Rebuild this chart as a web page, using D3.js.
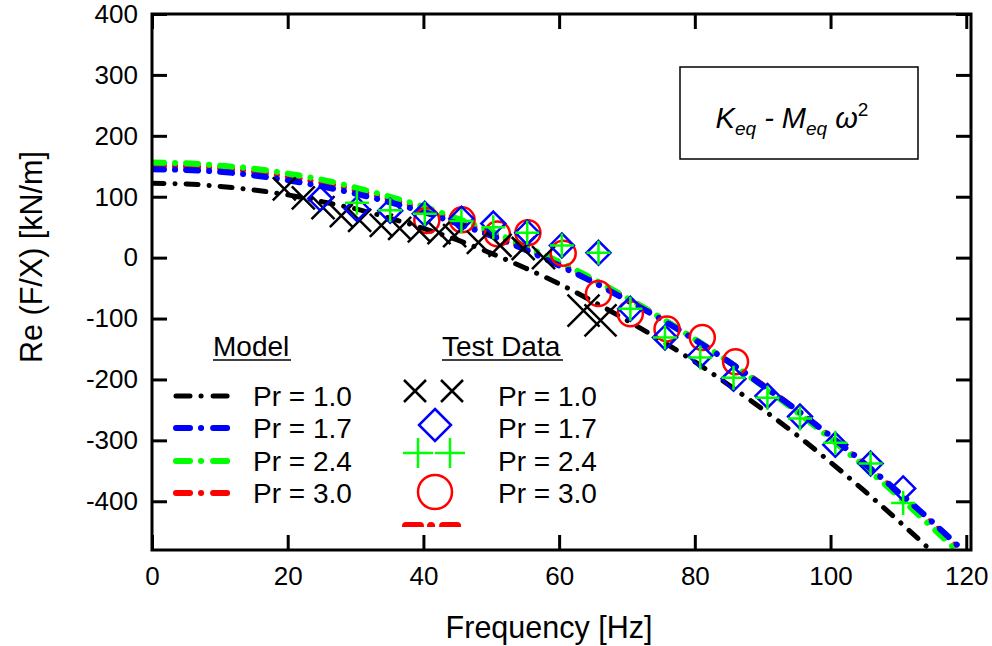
<!DOCTYPE html>
<html>
<head>
<meta charset="utf-8">
<script src="https://cdn.jsdelivr.net/npm/d3@7"></script>
<style>
body { margin: 0; background: #fff; }
text { font-family: Arial, "Liberation Sans", sans-serif; fill: #000; }
</style>
</head>
<body>
<svg></svg>
<script>
// model curves, read every 5 Hz
const modelFreq = [0, 5, 10, 15, 20, 25, 30, 35, 40, 45, 50, 55, 60, 65, 70, 75, 80, 85, 90, 95, 100, 105, 110, 115, 120];
const modelPr10 = [122, 121, 117, 111, 103, 92, 80, 65, 48, 29, 7, -17, -43, -72, -103, -136, -171, -209, -249, -291, -336, -383, -432, -483, -537];
const modelPr17 = [145, 144, 141, 135, 127, 117, 105, 91, 75, 56, 36, 13, -13, -40, -70, -101, -135, -171, -210, -250, -293, -338, -385, -434, -486];
const modelPr24 = [156, 155, 151, 146, 138, 128, 115, 100, 84, 64, 43, 19, -7, -35, -66, -99, -134, -171, -211, -253, -297, -343, -392, -443, -496];
const modelPr30 = [151, 150, 147, 141, 133, 123, 111, 96, 80, 61, 40, 16, -9, -37, -67, -99, -134, -171, -209, -251, -294, -340, -387, -437, -490];

// test data
const testFreq10 = [19.5, 22.3, 25.2, 27.9, 30.6, 33.8, 36.5, 39.4, 42.3, 44.6, 48.1, 51.3, 54.7, 57.7];
const testPr10 = [113, 98, 82, 69, 61, 53, 48, 44, 41, 36, 25, 20, 15, 0];
const testFreq10Hi = [63.6, 66.1];
const testPr10Hi = [-87, -103];
const testFreq17 = [24.8, 30.2, 35.1, 40.2, 45.6, 50.3, 55.3, 60.4, 65.8, 70.5, 75.6, 80.8, 85.7, 90.7, 95.5, 100.7, 105.9, 110.7];
const testPr17 = [97, 80, 77, 72, 64, 56, 41, 20, 8, -84, -131, -161, -199, -227, -261, -307, -338, -379];
const testFreq24 = [30.2, 35.1, 40.2, 45.6, 50.3, 55.3, 60.4, 65.8, 70.5, 75.6, 80.8, 85.7, 90.7, 95.5, 100.7, 105.9, 110.7];
const testPr24 = [90, 78, 72, 60, 50, 41, 20, 8, -84, -131, -164, -197, -230, -264, -304, -338, -403];
const testFreq30 = [40.5, 45.7, 50.9, 55.4, 60.6, 65.8, 70.5, 75.9, 81.1, 86.0];
const testPr30 = [61, 62, 39, 41, 7, -59, -92, -117, -131, -171];

const xTicks = [0, 20, 40, 60, 80, 100, 120];
const yTicks = [-400, -300, -200, -100, 0, 100, 200, 300, 400];
const legendLabels = ["Pr = 1.0", "Pr = 1.7", "Pr = 2.4", "Pr = 3.0"];

const width = 992;
const height = 646;
const pL = 152, pR = 971, pT = 14, pB = 550;

const svg = d3.select("svg")
    .attr("width", width)
    .attr("height", height);

const x = d3.scaleLinear().domain([0, 120.7]).range([pL, pR]);
const y = d3.scaleLinear().domain([-480, 400]).range([pB, pT]);

const defs = svg.append("defs");
defs.append("clipPath").attr("id", "plot")
  .append("rect")
    .attr("x", pL).attr("y", pT)
    .attr("width", pR - pL).attr("height", pB - pT);

const dash = "12,11,0.1,11";

// model lines
const line = d3.line().curve(d3.curveMonotoneX);
const models = [
    {vals: modelPr30, color: "#ff0000", w: 6},
    {vals: modelPr24, color: "#00ff00", w: 6},
    {vals: modelPr17, color: "#0000ff", w: 6},
    {vals: modelPr10, color: "#000000", w: 5}
];
const lines = svg.append("g").attr("clip-path", "url(#plot)");
models.forEach(m => {
    lines.append("path")
      .attr("d", line(modelFreq.map((f, i) => [x(f), y(m.vals[i])])))
      .attr("fill", "none")
      .attr("stroke", m.color)
      .attr("stroke-width", m.w)
      .attr("stroke-dasharray", dash)
      .attr("stroke-linecap", "round");
});

// marker paths
function cross(cx, cy, s) {
    return `M${cx - s},${cy - s}L${cx + s},${cy + s}M${cx - s},${cy + s}L${cx + s},${cy - s}`;
}
function plus(cx, cy, s) {
    return `M${cx - s},${cy}L${cx + s},${cy}M${cx},${cy - s}L${cx},${cy + s}`;
}
function diamond(cx, cy, s) {
    return `M${cx},${cy - s}L${cx + s},${cy}L${cx},${cy + s}L${cx - s},${cy}Z`;
}
function circle(cx, cy, s) {
    return `M${cx + s},${cy}A${s},${s} 0 1,1 ${cx - s},${cy}A${s},${s} 0 1,1 ${cx + s},${cy}Z`;
}

const marks = svg.append("g").attr("clip-path", "url(#plot)").attr("fill", "none").attr("stroke-width", 2.5);
function drawMarks(fr, vals, fn, size, color) {
    marks.selectAll(null)
      .data(fr.map((f, i) => [f, vals[i]]))
      .enter()
      .append("path")
        .attr("d", d => fn(x(d[0]), y(d[1]), size))
        .attr("stroke", color);
}
drawMarks(testFreq30, testPr30, circle, 12.5, "#ff0000");
drawMarks(testFreq10, testPr10, cross, 11.5, "#000000");
drawMarks(testFreq10Hi, testPr10Hi, cross, 16, "#000000");
drawMarks(testFreq17, testPr17, diamond, 12, "#0000ff");
drawMarks(testFreq24, testPr24, plus, 12, "#00ff00");

// axes with inward ticks
const plain = d => String(d);
const axisG = svg.append("g");
axisG.append("g")
    .attr("transform", `translate(${pL},0)`)
    .call(d3.axisLeft(y).tickValues(yTicks).tickFormat(plain).tickSizeInner(-15).tickSizeOuter(0).tickPadding(14));
axisG.append("g")
    .attr("transform", `translate(0,${pB})`)
    .call(d3.axisBottom(x).tickValues(xTicks).tickFormat(plain).tickSizeInner(-15).tickSizeOuter(0).tickPadding(17));
axisG.append("g")
    .attr("transform", `translate(${pR},0)`)
    .call(d3.axisRight(y).tickValues(yTicks).tickSizeInner(-15).tickSizeOuter(0).tickFormat(""));
axisG.append("g")
    .attr("transform", `translate(0,${pT})`)
    .call(d3.axisTop(x).tickValues(xTicks).tickSizeInner(-15).tickSizeOuter(0).tickFormat(""));
axisG.selectAll(".domain").remove();
axisG.selectAll(".tick line").attr("stroke", "#000").attr("stroke-width", 3);
axisG.selectAll(".tick text")
    .attr("fill", "#000")
    .style("font-family", "Arial, 'Liberation Sans', sans-serif")
    .style("font-size", "26px");

svg.append("rect")
    .attr("x", pL).attr("y", pT)
    .attr("width", pR - pL).attr("height", pB - pT)
    .attr("fill", "none").attr("stroke", "#000").attr("stroke-width", 3);

// axis titles
svg.append("text")
    .attr("x", 549).attr("y", 638)
    .attr("text-anchor", "middle")
    .style("font-size", "30.5px")
    .text("Frequency [Hz]");
svg.append("text")
    .attr("transform", `translate(42,257) rotate(-90)`)
    .attr("text-anchor", "middle")
    .style("font-size", "30.5px")
    .text("Re (F/X) [kN/m]");

// annotation box
svg.append("rect")
    .attr("x", 680).attr("y", 67).attr("width", 238).attr("height", 92)
    .attr("fill", "#fff").attr("stroke", "#000").attr("stroke-width", 1.5);
const ann = svg.append("text")
    .attr("x", 792).attr("y", 128)
    .attr("text-anchor", "middle")
    .style("font-size", "29px")
    .style("font-style", "italic");
ann.append("tspan").text("K");
ann.append("tspan").attr("dy", 7).style("font-size", "19px").text("eq");
ann.append("tspan").attr("dy", -7).text(" - M");
ann.append("tspan").attr("dy", 7).style("font-size", "19px").text("eq");
ann.append("tspan").attr("dy", -7).text(" \u03c9");
ann.append("tspan").attr("dy", -12).style("font-size", "19px").style("font-style", "normal").text("2");

// legend
const leg = svg.append("g").style("font-size", "28px");
leg.append("text").attr("x", 213).attr("y", 356).text("Model");
leg.append("line").attr("x1", 213).attr("x2", 291).attr("y1", 360).attr("y2", 360).attr("stroke", "#000").attr("stroke-width", 1.5);
leg.append("text").attr("x", 442).attr("y", 356).text("Test Data");
leg.append("line").attr("x1", 442).attr("x2", 563).attr("y1", 360).attr("y2", 360).attr("stroke", "#000").attr("stroke-width", 1.5);

const rowY = [396, 428, 461, 493];
const legColors = ["#000000", "#0000ff", "#00ff00", "#ff0000"];
legendLabels.forEach((lab, i) => {
    leg.append("line")
      .attr("x1", 176).attr("x2", 238).attr("y1", rowY[i]).attr("y2", rowY[i])
      .attr("stroke", legColors[i]).attr("stroke-width", i == 0 ? 5 : 6)
      .attr("stroke-dasharray", "14,11,0.1,12").attr("stroke-linecap", "round");
    leg.append("text").attr("x", 253).attr("y", rowY[i] + 10).text(lab);
    leg.append("text").attr("x", 498).attr("y", rowY[i] + 10).text(lab);
});
const lm = leg.append("g").attr("fill", "none").attr("stroke-width", 2.5);
lm.append("path").attr("d", cross(415, rowY[0] - 5, 11) + cross(452, rowY[0] - 5, 11)).attr("stroke", "#000");
lm.append("path").attr("d", diamond(435, rowY[1] - 3, 16)).attr("stroke", "#0000ff");
lm.append("path").attr("d", plus(418, rowY[2] - 8, 15) + plus(450, rowY[2] - 8, 15)).attr("stroke", "#00ff00");
lm.append("path").attr("d", circle(435, rowY[3] - 1, 17)).attr("stroke", "#ff0000");

// clipped stray legend line under the test data rows
defs.append("clipPath").attr("id", "stub")
  .append("rect").attr("x", 390).attr("y", 500).attr("width", 90).attr("height", 27);
svg.append("line")
    .attr("clip-path", "url(#stub)")
    .attr("x1", 406).attr("x2", 462).attr("y1", 526).attr("y2", 526)
    .attr("stroke", "#ff0000").attr("stroke-width", 8)
    .attr("stroke-dasharray", "14,11,0.1,12").attr("stroke-linecap", "round");
</script>
</body>
</html>
